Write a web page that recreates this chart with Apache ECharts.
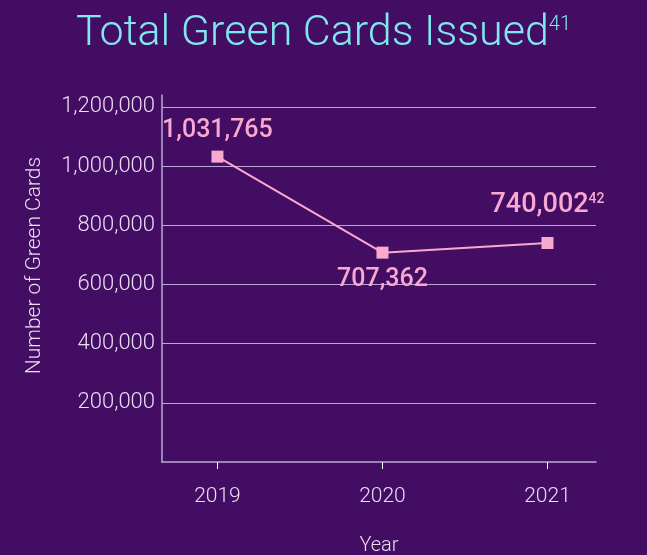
<!DOCTYPE html>
<html>
<head>
<meta charset="utf-8">
<script src="https://cdn.jsdelivr.net/npm/echarts@6/dist/echarts.min.js"></script>
<style>
  html, body { margin: 0; background: #420d63; }
  #main { width: 647px; height: 555px; }
</style>
</head>
<body>
<div id="main"></div>
<script>
  // data
  const years = [2019, 2020, 2021];
  const greenCards = [1031765, 707362, 740002];
  const footnotes = ['', '', '42'];
  const yTickValues = [0, 200000, 400000, 600000, 800000, 1000000, 1200000];

  const pink = '#f9a9cf';
  const lavender = '#bda8d6';
  const textLight = '#e9ddf2';
  const font = 'Roboto';

  const chart = echarts.init(document.getElementById('main'));

  // label placement per point (above / below the marker)
  const labelPos = ['top', 'bottom', 'top'];
  const labelDist = [7, 9, 18];
  const labelSize = [25, 25, 27];

  const option = {
    backgroundColor: '#420d63',
    animation: false,
    title: {
      text: '{t|Total Green Cards Issued}{s|41}',
      left: 'center',
      top: 8,
      textStyle: {
        rich: {
          t: { fontFamily: font, fontWeight: 300, fontSize: 43, color: '#82e6f0' },
          s: { fontFamily: font, fontWeight: 300, fontSize: 20, color: '#82e6f0', padding: [0, 0, 20, 0] }
        }
      }
    },
    grid: { left: 162, right: 51, top: 95, bottom: 93, outerBoundsMode: 'none', containLabel: false },
    xAxis: {
      type: 'value',
      min: 2018.664,
      max: 2021.294,
      name: 'Year',
      nameLocation: 'middle',
      nameGap: 74,
      nameTextStyle: { fontFamily: font, fontSize: 20, fontWeight: 300, color: textLight },
      axisLine: { show: true, lineStyle: { color: lavender, width: 1.5 } },
      axisTick: { show: true, customValues: years, length: 7, lineStyle: { color: '#ffffff', width: 1 } },
      axisLabel: {
        customValues: years,
        formatter: v => String(v),
        margin: 24,
        fontFamily: font, fontSize: 21, fontWeight: 300, color: textLight
      },
      splitLine: { show: false }
    },
    yAxis: {
      type: 'value',
      min: 0,
      max: 1240000,
      interval: 200000,
      name: 'Number of Green Cards',
      nameLocation: 'middle',
      nameGap: 117,
      nameRotate: 90,
      nameTextStyle: { fontFamily: font, fontSize: 21, fontWeight: 300, color: textLight, padding: [0, 0, 0, 26] },
      axisLine: { show: true, lineStyle: { color: lavender, width: 1.5 } },
      axisTick: { show: false },
      axisLabel: {
        showMinLabel: false,
        showMaxLabel: false,
        margin: 7,
        formatter: v => yTickValues.includes(v) ? v.toLocaleString('en-US') : '',
        fontFamily: font, fontSize: 22, fontWeight: 300, color: textLight
      },
      splitLine: { show: true, showMinLine: false, showMaxLine: false, lineStyle: { color: lavender, width: 1.2 } }
    },
    series: [{
      type: 'line',
      data: years.map((y, i) => ({
        value: [y, greenCards[i]],
        label: {
          position: labelPos[i],
          distance: labelDist[i],
          formatter: '{v|' + greenCards[i].toLocaleString('en-US') + '}' + (footnotes[i] ? '{s|' + footnotes[i] + '}' : ''),
          rich: {
            v: { fontFamily: font, fontWeight: 500, fontSize: labelSize[i], color: pink },
            s: { fontFamily: font, fontWeight: 500, fontSize: 14, color: pink, padding: [0, 0, 12, 0] }
          }
        }
      })),
      symbol: 'rect',
      symbolSize: 12,
      itemStyle: { color: pink },
      lineStyle: { color: pink, width: 2 },
      label: { show: true }
    }]
  };

  chart.setOption(option);
</script>
</body>
</html>
